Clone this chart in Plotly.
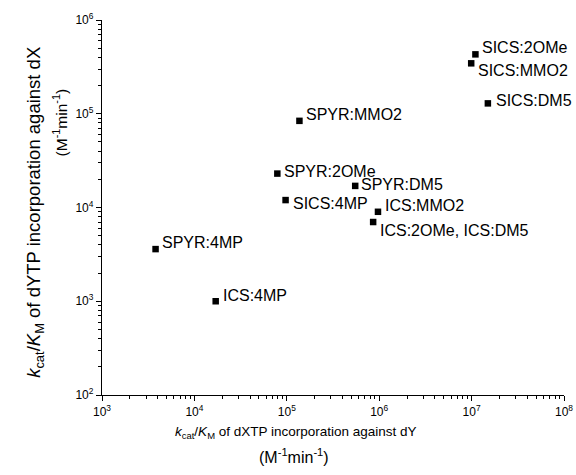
import numpy as np
import plotly.graph_objects as go

# ---- data ----
labels = ["SICS:2OMe", "SICS:MMO2", "SICS:DM5", "SPYR:MMO2", "SPYR:2OMe",
          "SPYR:DM5", "SICS:4MP", "ICS:MMO2", "ICS:2OMe, ICS:DM5",
          "SPYR:4MP", "ICS:4MP"]
kcat_dXTP_vs_dY = [1.1e7, 9.9e6, 1.5e7, 1.37e5, 7.9e4, 5.5e5, 9.7e4, 9.7e5,
                   8.6e5, 3.8e3, 1.7e4]
kcat_dYTP_vs_dX = [4.3e5, 3.45e5, 1.29e5, 8.4e4, 2.3e4, 1.7e4, 1.2e4, 9.0e3,
                   7.0e3, 3.6e3, 1.0e3]
x_tick_exps = [3, 4, 5, 6, 7, 8]
y_tick_exps = [2, 3, 4, 5, 6]

# ---- label offsets (style: pixels) ----
label_shift = {
    "SICS:2OMe": (5, 7),
    "SICS:MMO2": (5, -7),
    "SICS:DM5": (6, 3),
    "SPYR:MMO2": (5, 6),
    "SPYR:2OMe": (5, 2),
    "SPYR:DM5": (4, 1),
    "SICS:4MP": (5, -3),
    "ICS:MMO2": (5, 6),
    "ICS:2OMe, ICS:DM5": (5, -8),
    "SPYR:4MP": (4, 7),
    "ICS:4MP": (5, 6),
}

FONT = "Liberation Sans, Arial, sans-serif"

fig = go.Figure()
fig.add_trace(go.Scatter(
    x=kcat_dXTP_vs_dY, y=kcat_dYTP_vs_dX, mode="markers",
    marker=dict(symbol="square", size=6.5, color="black"),
    hoverinfo="skip", showlegend=False,
))

annotations = []
for lab, xv, yv in zip(labels, kcat_dXTP_vs_dY, kcat_dYTP_vs_dX):
    dx, dy = label_shift[lab]
    annotations.append(dict(
        x=np.log10(xv), y=np.log10(yv), xref="x", yref="y",
        text=lab, showarrow=False, xanchor="left", yanchor="middle",
        xshift=dx, yshift=dy,
        font=dict(family=FONT, size=16, color="black"),
    ))

# axis titles (placed as separate lines, like the reference)
annotations += [
    dict(xref="paper", yref="paper", x=0.419, y=-0.100,
         text="<i>k</i><sub>cat</sub>/<i>K</i><sub>M</sub> of dXTP incorporation against dY",
         showarrow=False, xanchor="center", yanchor="middle",
         font=dict(family=FONT, size=13.5, color="black")),
    dict(xref="paper", yref="paper", x=0.416, y=-0.163,
         text="(M<sup>-1</sup>min<sup>-1</sup>)",
         showarrow=False, xanchor="center", yanchor="middle",
         font=dict(family=FONT, size=16, color="black")),
    dict(xref="paper", yref="paper", x=-0.144, y=0.487,
         text="<i>k</i><sub>cat</sub>/<i>K</i><sub>M</sub> of dYTP incorporation against dX",
         showarrow=False, xanchor="center", yanchor="middle", textangle=-90,
         font=dict(family=FONT, size=18.5, color="black")),
    dict(xref="paper", yref="paper", x=-0.090, y=0.728,
         text="(M<sup>-1</sup>min<sup>-1</sup>)",
         showarrow=False, xanchor="center", yanchor="middle", textangle=-90,
         font=dict(family=FONT, size=15.5, color="black")),
]

axis_common = dict(
    type="log", showgrid=False, zeroline=False, showline=True,
    automargin=False, ticklabeloverflow="allow",
    linecolor="black", linewidth=1.3, ticks="outside", ticklen=5,
    tickwidth=1.2, tickcolor="black", mirror=False,
    tickfont=dict(family=FONT, size=12, color="black"),
    minor=dict(ticks="outside", ticklen=3, tickwidth=1, tickcolor="black",
               dtick="D1", showgrid=False),
)

fig.update_xaxes(
    range=[3, 8],
    tickvals=[10.0 ** e for e in x_tick_exps],
    ticktext=[f"10<sup>{e}</sup>" for e in x_tick_exps],
    **axis_common,
)
fig.update_yaxes(
    range=[2, 6],
    tickvals=[10.0 ** e for e in y_tick_exps],
    ticktext=[f"10<sup>{e}</sup>" for e in y_tick_exps],
    **axis_common,
)

fig.update_layout(
    width=576, height=475,
    margin=dict(l=102, r=12, t=20, b=80, pad=0),
    plot_bgcolor="white", paper_bgcolor="white",
    annotations=annotations,
    font=dict(family=FONT, color="black"),
    hovermode=False,
)

# remove the default 8px page margin so the figure fills the window exactly
fig.write_html("out.html",
               config={"displayModeBar": False},
               post_script="document.body.style.margin='0';")
